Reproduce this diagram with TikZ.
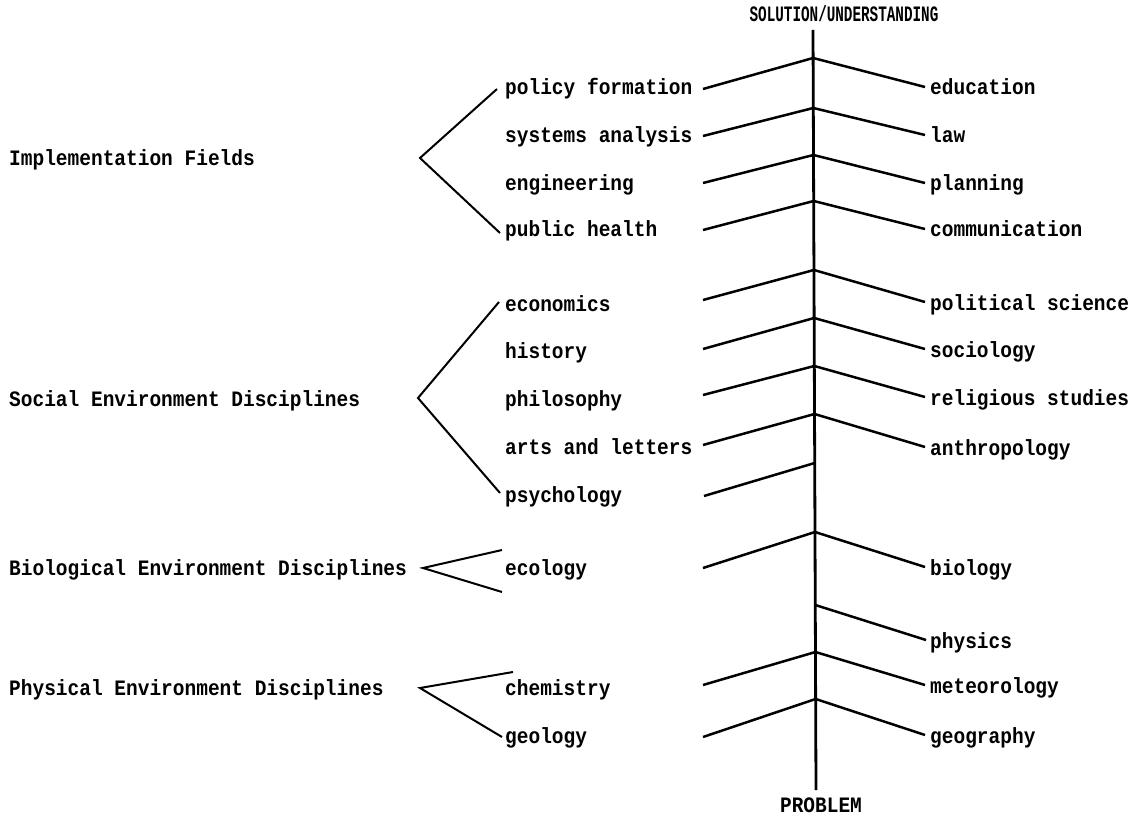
\documentclass[tikz,border=0pt]{standalone}
\usepackage{fontspec}
\usetikzlibrary{calc}
\newfontfamily\typefont[FakeStretch=0.886]{Liberation Mono}
\newfontfamily\narrowtype[FakeStretch=0.65]{Liberation Mono}

\begin{document}
\begin{tikzpicture}[x=1pt,y=-1pt,
  lbl/.style={anchor=base west, inner sep=0pt,
    font=\typefont\bfseries\fontsize{22}{24}\selectfont},
  title/.style={anchor=base, inner sep=0pt},
  spine/.style={line width=2.8pt},
  branch/.style={line width=2.5pt, line join=miter},
  bracket/.style={line width=2pt, line join=miter}]
\useasboundingbox (0,0) rectangle (1140,818);

% axis from problem to solution
\node[title, font=\narrowtype\bfseries\fontsize{22}{24}\selectfont] (sol) at (844,22) {SOLUTION/UNDERSTANDING};
\node[title, font=\typefont\bfseries\fontsize{22}{24}\selectfont] (prob) at (821,812) {PROBLEM};
\coordinate (top) at (813,30);
\coordinate (bot) at (816,790);
\draw[spine] (top) -- (bot);

% right-hand disciplines
\node[lbl] (r1)  at (930,95)  {education};
\node[lbl] (r2)  at (930,143) {law};
\node[lbl] (r3)  at (930,191) {planning};
\node[lbl] (r4)  at (930,237) {communication};
\node[lbl] (r5)  at (930,310) {political science};
\node[lbl] (r6)  at (930,357) {sociology};
\node[lbl] (r7)  at (930,405) {religious studies};
\node[lbl] (r8)  at (930,455) {anthropology};
\node[lbl] (r10) at (930,575) {biology};
\node[lbl] (r11) at (930,648) {physics};
\node[lbl] (r12) at (930,693) {meteorology};
\node[lbl] (r13) at (930,743) {geography};

% left-hand disciplines
\node[lbl] (l1)  at (505,95)  {policy formation};
\node[lbl] (l2)  at (505,143) {systems analysis};
\node[lbl] (l3)  at (505,191) {engineering};
\node[lbl] (l4)  at (505,237) {public health};
\node[lbl] (l5)  at (505,311) {economics};
\node[lbl] (l6)  at (505,358) {history};
\node[lbl] (l7)  at (505,406) {philosophy};
\node[lbl] (l8)  at (505,454) {arts and letters};
\node[lbl] (l9)  at (505,502) {psychology};
\node[lbl] (l10) at (505,575) {ecology};
\node[lbl] (l12) at (505,695) {chemistry};
\node[lbl] (l13) at (505,743) {geology};

% groups
\node[lbl] (g1) at (9,166) {Implementation Fields};
\node[lbl] (g2) at (9,406) {Social Environment Disciplines};
\node[lbl] (g3) at (9,575) {Biological Environment Disciplines};
\node[lbl] (g4) at (9,695) {Physical Environment Disciplines};

% branches joining the axis: number / junction y / left end y / right end y
\foreach \n/\ay/\ly/\ry in {1/58/89/87, 2/108/136/135, 3/155/183/183,
    4/201/230/229, 5/270/300/302, 6/318/349/349, 7/366/395/397,
    8/414/445/447, 10/532/568/567, 12/652/685/685, 13/699/737/735} {
  \coordinate (a\n) at ($(top)!{(\ay-30)/760}!(bot)$);
  \coordinate (le\n) at (703,\ly);
  \coordinate (re\n) at (925,\ry);
  \draw[branch] (le\n) -- (a\n) -- (re\n);
}
% single-sided branches
\coordinate (a9) at ($(top)!{(463-30)/760}!(bot)$);
\coordinate (le9) at (704,496);
\draw[branch] (le9) -- (a9);
\coordinate (a11) at ($(top)!{(605-30)/760}!(bot)$);
\coordinate (re11) at (926,640);
\draw[branch] (a11) -- (re11);

% group brackets
\coordinate (b1) at (420,158); \coordinate (b1u) at (497,89);  \coordinate (b1d) at (500,233);
\coordinate (b2) at (418,398); \coordinate (b2u) at (499,302); \coordinate (b2d) at (500,493);
\coordinate (b3) at (423,568); \coordinate (b3u) at (502,550); \coordinate (b3d) at (502,592);
\coordinate (b4) at (420,688); \coordinate (b4u) at (513,672); \coordinate (b4d) at (502,737);
\foreach \k in {1,2,3,4} {
  \draw[bracket] (b\k u) -- (b\k) -- (b\k d);
}
\end{tikzpicture}
\end{document}
